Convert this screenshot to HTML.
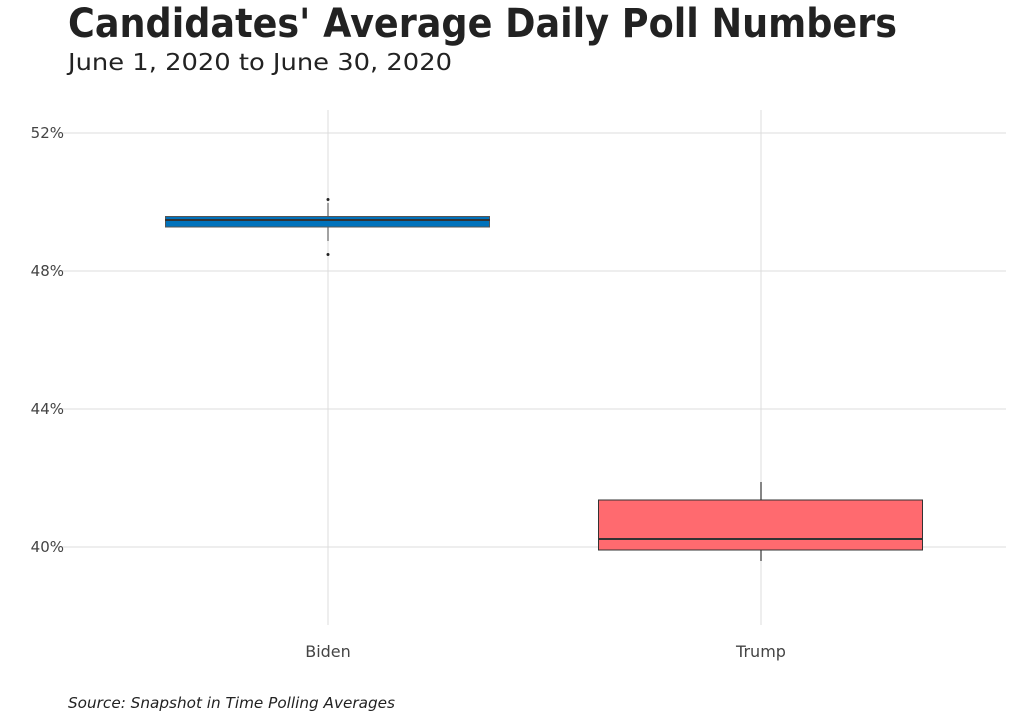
<!DOCTYPE html>
<html><head><meta charset="utf-8"><style>
body{margin:0;background:#fff;}
svg text{font-family:"DejaVu Sans","Liberation Sans",sans-serif;}
</style></head><body>
<svg width="1024" height="716" viewBox="0 0 1024 716" xmlns="http://www.w3.org/2000/svg">
<rect width="1024" height="716" fill="#fff"/>
<text x="68" y="37" font-size="40" font-weight="bold" fill="#222" textLength="829" lengthAdjust="spacingAndGlyphs">Candidates' Average Daily Poll Numbers</text>
<text x="68" y="70" font-size="23" fill="#222" textLength="384" lengthAdjust="spacingAndGlyphs">June 1, 2020 to June 30, 2020</text>
<g stroke="#dcdcdc" stroke-width="1">
<line x1="55" y1="133" x2="1006" y2="133"/>
<line x1="55" y1="271" x2="1006" y2="271"/>
<line x1="55" y1="409" x2="1006" y2="409"/>
<line x1="55" y1="547" x2="1006" y2="547"/>
<line x1="328" y1="110" x2="328" y2="625"/>
<line x1="761" y1="110" x2="761" y2="625"/>
</g>
<g font-size="15" fill="#444" text-anchor="end">
<text x="64" y="138">52%</text>
<text x="64" y="276">48%</text>
<text x="64" y="414">44%</text>
<text x="64" y="552">40%</text>
</g>
<g font-size="16" fill="#444" text-anchor="middle">
<text x="328" y="657">Biden</text>
<text x="761" y="657">Trump</text>
</g>
<line x1="328" y1="203" x2="328" y2="241" stroke="#444" stroke-width="1"/>
<rect x="165.5" y="216.5" width="324" height="10.5" fill="#0072bb" stroke="#555" stroke-width="1"/>
<line x1="165" y1="220" x2="490" y2="220" stroke="#333" stroke-width="2"/>
<circle cx="328" cy="199.5" r="1.5" fill="#222"/>
<circle cx="328" cy="254.5" r="1.5" fill="#222"/>
<line x1="761" y1="482" x2="761" y2="561" stroke="#333" stroke-width="1.2"/>
<rect x="598.5" y="500" width="324" height="50" fill="#ff6a6f" stroke="#333" stroke-width="1"/>
<line x1="598" y1="539" x2="923" y2="539" stroke="#333" stroke-width="2"/>
<text x="68" y="708" font-size="15" font-style="italic" fill="#222" textLength="327" lengthAdjust="spacingAndGlyphs">Source: Snapshot in Time Polling Averages</text>
</svg>
</body></html>
